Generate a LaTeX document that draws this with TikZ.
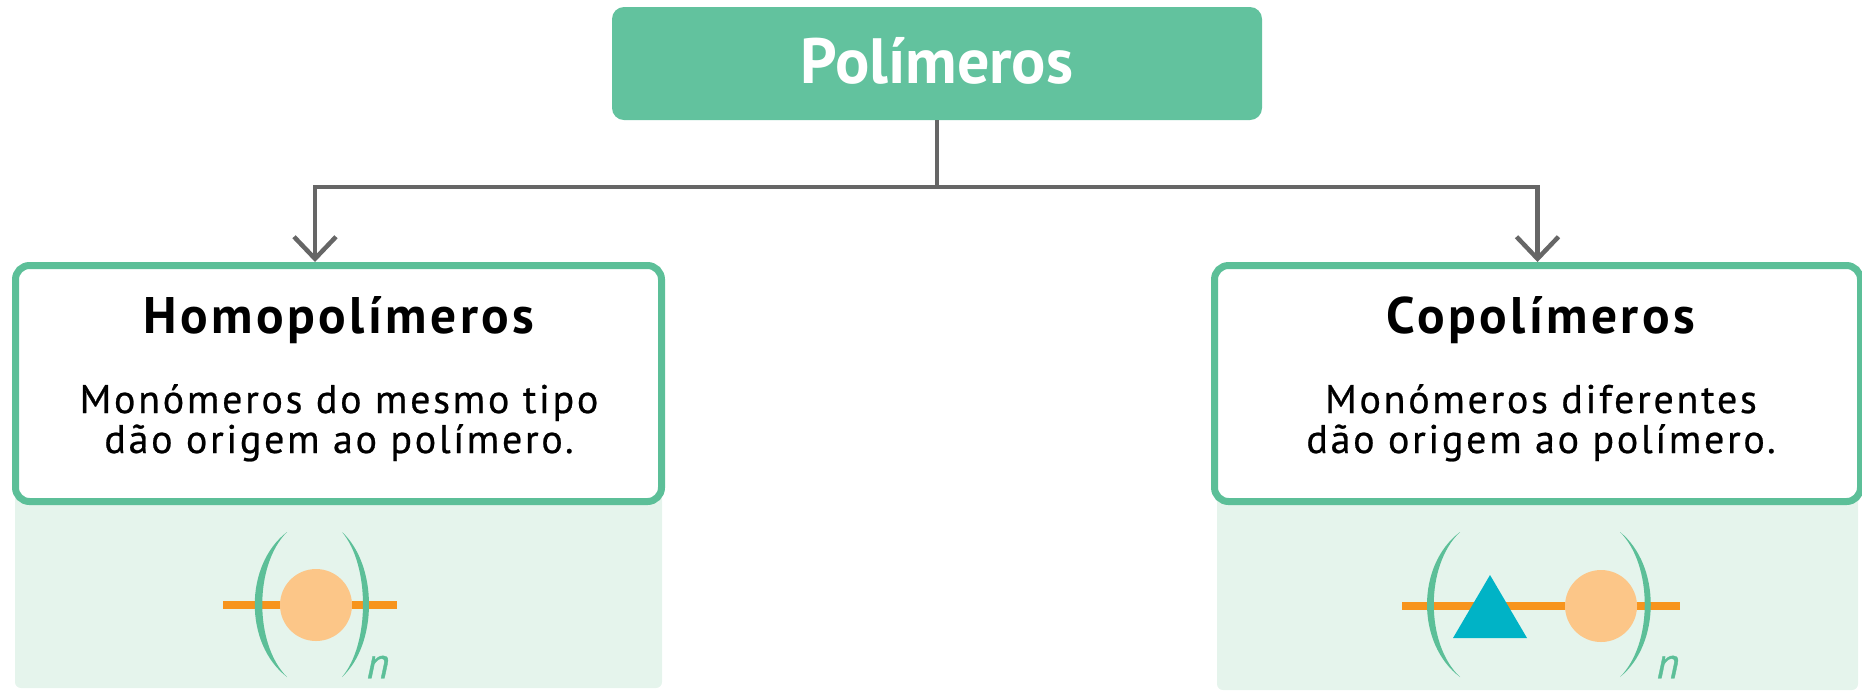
\documentclass[tikz,border=0pt]{standalone}
\usepackage{fontspec}
\setmainfont{PT Sans}
\usetikzlibrary{shapes,arrows.meta,positioning,calc}

\definecolor{polygreen}{HTML}{62C29E}
\definecolor{boxline}{HTML}{5CBF98}
\definecolor{panelgreen}{HTML}{E5F4EC}
\definecolor{linkgray}{HTML}{666666}
\definecolor{chainorange}{HTML}{F7941D}
\definecolor{unitorange}{HTML}{FCC688}
\definecolor{unitteal}{HTML}{00B3C6}

\tikzset{
  headbox/.style={rectangle,fill=polygreen,rounded corners=6pt,minimum width=325pt,minimum height=56.5pt},
  catbox/.style={rectangle,draw=boxline,line width=3.5pt,rounded corners=7pt,fill=white,minimum width=323pt,minimum height=118pt},
  link/.style={draw=linkgray,line width=2.25pt,-{Straight Barb[length=11pt,width=21pt]}},
  headtext/.style={anchor=base,text=white,font=\fontsize{32}{36}\selectfont\bfseries},
  cattitle/.style={anchor=base,font=\fontsize{25.7}{30}\selectfont\bfseries\addfontfeature{LetterSpace=6.8}},
  catbody/.style={anchor=base,align=center,font=\fontsize{20}{20}\selectfont\addfontfeature{LetterSpace=6.8,FakeBold=0.6}},
  paren/.style={fill=boxline},
  chain/.style={draw=chainorange,line width=4pt},
  repeat/.style={anchor=center,text=boxline,font=\fontsize{22}{24}\selectfont\itshape\addfontfeature{FakeBold=0.8}}
}

\begin{document}
\begin{tikzpicture}[x=0.5pt,y=-0.5pt]
  \useasboundingbox (0,0) rectangle (1862,693);

  % panels under the boxes
  \fill[panelgreen,rounded corners=3pt] (15,400) rectangle (662,688);
  \fill[panelgreen,rounded corners=3pt] (1217,400) rectangle (1858,690);

  \node[headbox] (poly) at (937,63.5) {};
  \node[headtext] (polylabel) at (937,83) {Polímeros};

  \node[catbox] (homo) at (338.5,383.5) {};
  \node[catbox] (copo) at (1537.5,383.5) {};

  \node[cattitle] (homotitle) at (339,333) {Homopolímeros};
  \node[catbody] (homobody) at (339,453) {Monómeros do mesmo tipo\\dão origem ao polímero.};
  \node[cattitle] (copotitle) at (1541,333) {Copolímeros};
  \node[catbody] (copobody) at (1541,453) {Monómeros diferentes\\dão origem ao polímero.};

  \coordinate (split) at (937,187);
  \draw[link] (poly.south) -- (split) -| ([xshift=-11.75pt]homo.north);
  \draw[link] (poly.south) -- (split) -| (copo.north);

  % homopolymer unit
  \draw[chain] (223,605) -- (397,605);
  \fill[unitorange] (316,605) circle (36);
  \fill[paren] (287,532) .. controls (244,565) and (244,644) .. (287,677)
    .. controls (254,644) and (254,565) .. (287,532);
  \fill[paren] (342,532) .. controls (378,565) and (378,644) .. (342,677)
    .. controls (370,644) and (370,565) .. (342,532);
  \node[repeat] (homon) at (378,667) {n};

  % copolymer unit
  \draw[chain] (1402,606) -- (1680,606);
  \fill[unitteal] (1490,575) -- (1527,638) -- (1453,638) -- cycle;
  \fill[unitorange] (1601,606) circle (36);
  \fill[paren] (1460,532) .. controls (1416,565) and (1416,644) .. (1460,677)
    .. controls (1425,644) and (1425,565) .. (1460,532);
  \fill[paren] (1620,532) .. controls (1661,565) and (1661,644) .. (1620,677)
    .. controls (1653,644) and (1653,565) .. (1620,532);
  \node[repeat] (copon) at (1668,667) {n};
\end{tikzpicture}
\end{document}
